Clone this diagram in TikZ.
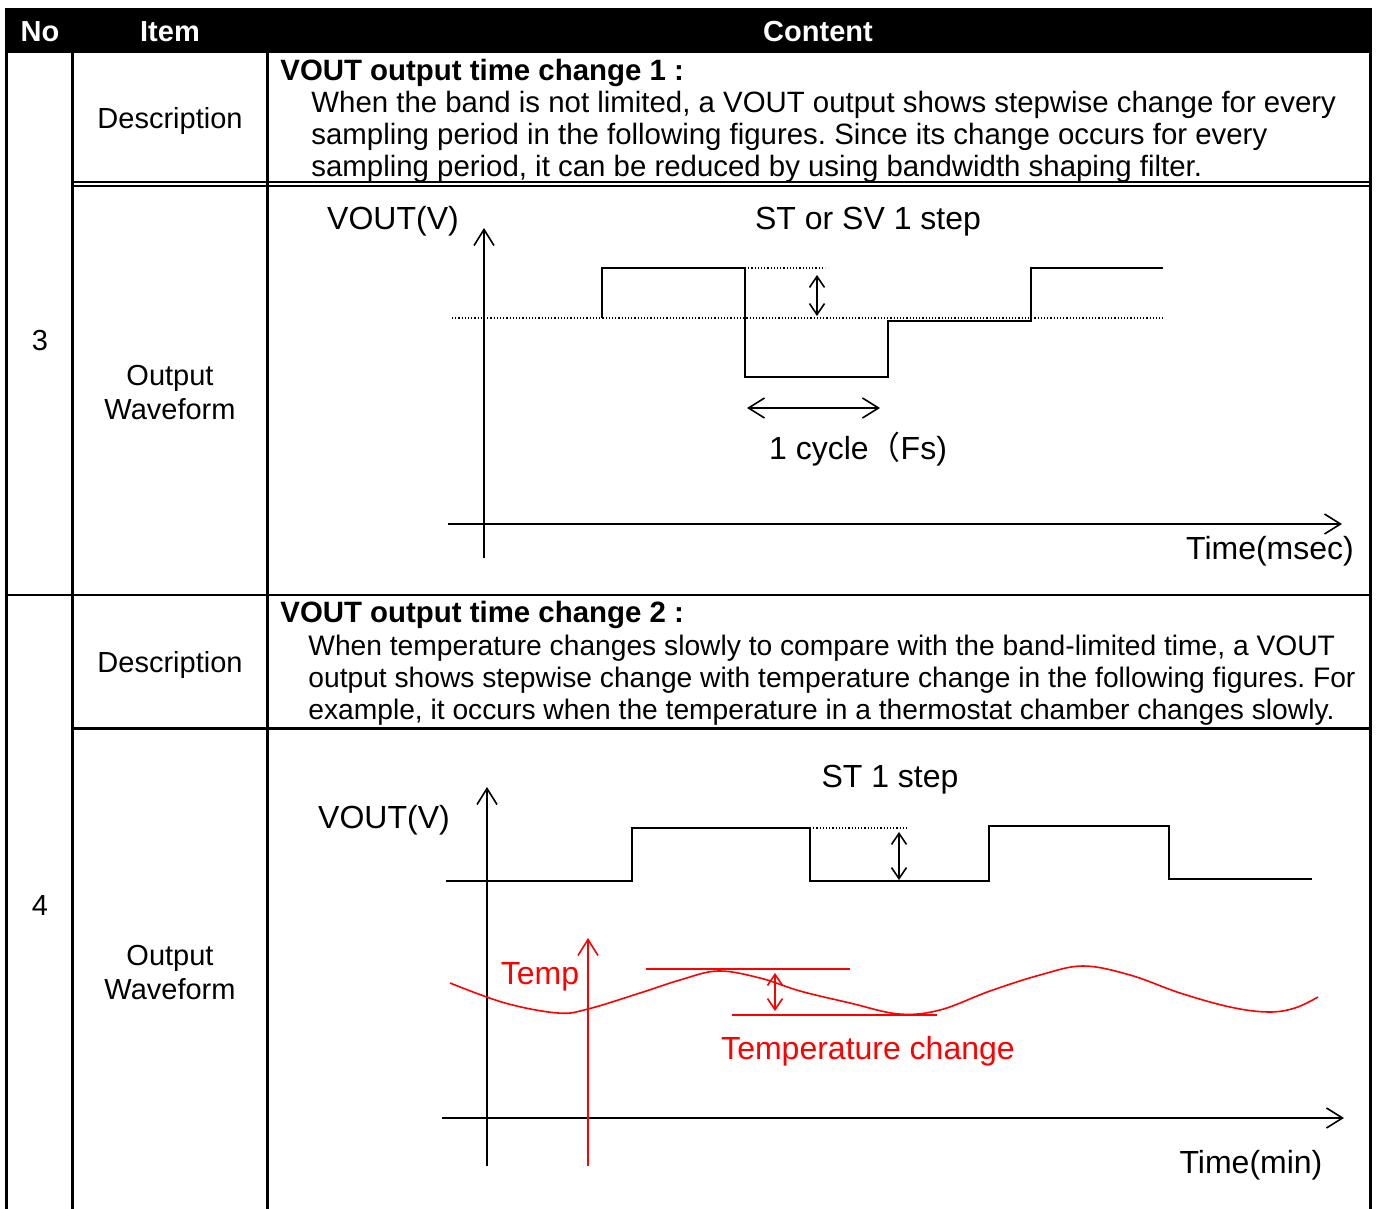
\documentclass[tikz,border=0pt]{standalone}
\usepackage{fontspec}
\setmainfont{Liberation Sans}
\newfontfamily\cjk{Noto Sans CJK JP}
\usetikzlibrary{arrows.meta}
\frenchspacing

\tikzset{
  frame/.style={line width=1.5pt},
  wave/.style={line width=1pt},
  axis/.style={line width=0.8pt, -{Straight Barb[length=8pt,width=10pt]}},
  span/.style={line width=0.8pt, {Straight Barb[length=8pt,width=10pt]}-{Straight Barb[length=8pt,width=10pt]}},
  gap/.style={line width=0.8pt, {Straight Barb[length=5.5pt,width=7.5pt]}-{Straight Barb[length=5.5pt,width=7.5pt]}},
  guide/.style={densely dotted, line width=0.6pt},
  hd/.style={text=white, font=\fontsize{14.5}{16}\selectfont\bfseries},
  cell/.style={font=\fontsize{14.5}{17}\selectfont},
  title/.style={font=\fontsize{14.7}{16}\selectfont\bfseries, anchor=west, inner sep=0pt},
  body/.style={anchor=north west, align=left, inner sep=0pt},
  lbl/.style={font=\fontsize{16}{18}\selectfont},
}

\begin{document}
\begin{tikzpicture}[x=0.5pt, y=-0.5pt]
    \useasboundingbox (0,0) rectangle (1377,1209);
    % Header
    \fill (5,8) rectangle (1371.5,53);
    \node[hd] (hno) at (40,32) {No};
    \node[hd] (hitem) at (170,32) {Item};
    \node[hd] (hcontent) at (818,32) {Content};
    % Frame
    \draw[frame] (6.5,8) -- (6.5,1209);
    \draw[frame] (72.5,8) -- (72.5,1209);
    \draw[frame] (267.5,8) -- (267.5,1209);
    \draw[frame] (1370,8) -- (1370,1209);
    \draw[line width=0.75pt] (74,182) -- (1370,182);
    \draw[line width=0.75pt] (74,186) -- (1370,186);
    \draw[line width=0.8pt] (8,595) -- (1370,595);
    \draw[frame] (74,728.7) -- (1370,728.7);
    % Left columns
    \node[cell] (no3) at (40,341) {3};
    \node[cell] (no4) at (40,906) {4};
    \node[cell] (desc3) at (170,121) {Description};
    \node[cell, align=center] (out3) at (170,393) {Output\\Waveform};
    \node[cell] (desc4) at (170,665) {Description};
    \node[cell, align=center] (out4) at (170,973) {Output\\Waveform};
    % Descriptions
    \node[title] (title3) at (280,73) {VOUT output time change 1 :};
    \node[body, font=\fontsize{14.7}{16}\selectfont] (text3) at (311,91) {When the band is not limited, a VOUT output shows stepwise change for every\\
      sampling period in the following figures. Since its change occurs for every\\
      sampling period, it can be reduced by using bandwidth shaping filter.};
    \node[title] (title4) at (280,615) {VOUT output time change 2 :};
    \node[body, font=\fontsize{14.1}{16}\selectfont] (text4) at (308,635) {When temperature changes slowly to compare with the band-limited time, a VOUT\\
      output shows stepwise change with temperature change in the following figures. For\\
      example, it occurs when the temperature in a thermostat chamber changes slowly.};
    % Waveform 1
    \draw[axis] (484,558) -- (484,228);
    \draw[axis] (448,524) -- (1342,524);
    \draw[guide] (452,318) -- (1163,318);
    \draw[guide] (745,268) -- (825,268);
    \draw[wave] (602,318) -- (602,268) -- (745,268) -- (745,377) -- (888,377) -- (888,321)
      -- (1031,321) -- (1031,268) -- (1163,268);
    \draw[gap] (817,275) -- (817,316);
    \draw[span] (747,408) -- (880,408);
    \node[lbl] (vout1) at (393,221) {VOUT(V)};
    \node[lbl] (step1) at (868,222) {ST or SV 1 step};
    \node[lbl] (cycle) at (858,449) {1 cycle{\cjk （}Fs)};
    \node[lbl] (time1) at (1270,551) {Time(msec)};
    % Waveform 2
    \draw[axis] (487,1166) -- (487,787);
    \draw[axis] (442,1118) -- (1344,1118);
    \draw[guide] (810,828) -- (908,828);
    \draw[wave] (446,881) -- (632,881) -- (632,828) -- (810,828) -- (810,881) -- (989,881)
      -- (989,826) -- (1169,826) -- (1169,879) -- (1312,879);
    \draw[gap] (899,832) -- (899,880);
    \node[lbl] (vout2) at (384,820) {VOUT(V)};
    \node[lbl] (step2) at (890,780) {ST 1 step};
    \node[lbl] (time2) at (1251,1165) {Time(min)};
    % Temperature
    \draw[axis, red] (588,1166) -- (588,938);
    \draw[red, line width=0.8pt] (646,969) -- (850,969);
    \draw[red, line width=0.8pt] (732,1015) -- (937,1015);
    \draw[gap, red] (775,973) -- (775,1011);
    \draw[red, line width=0.8pt] plot[smooth, tension=0.6] coordinates {(450,983) (505,1003) (558,1013)
      (588,1009) (640,993) (680,980) (718,971) (760,978) (800,991) (850,1003) (899,1014) (940,1010)
      (990,991) (1040,975) (1083,966) (1130,975) (1180,993) (1230,1007) (1268,1012) (1295,1008) (1318,997)};
    \node[lbl, red] (temp) at (540,977) {Temp};
    \node[lbl, red] (tchange) at (868,1051) {Temperature change};
\end{tikzpicture}
\end{document}
